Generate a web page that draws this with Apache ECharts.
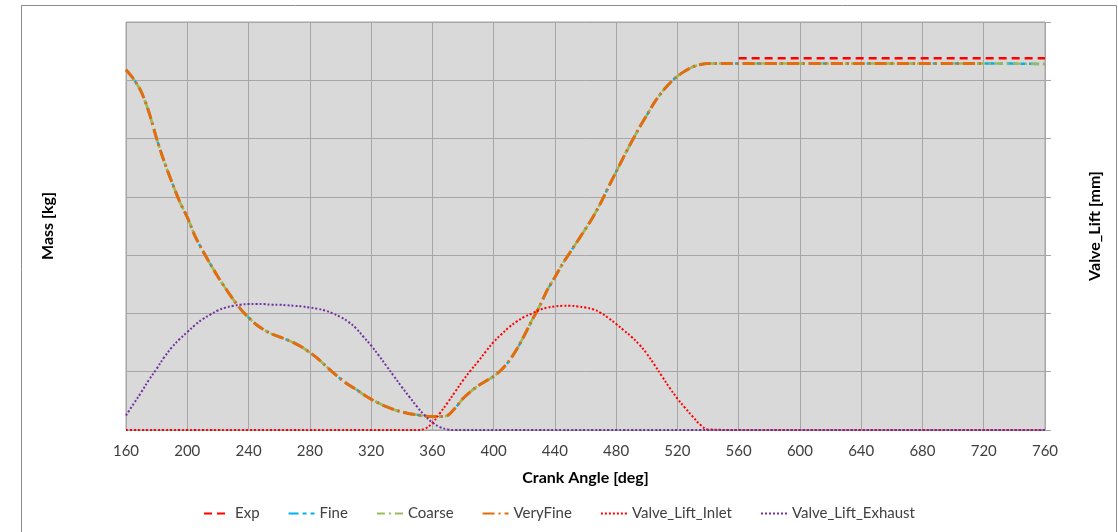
<!DOCTYPE html>
<html>
<head>
<meta charset="utf-8">
<script src="https://cdn.jsdelivr.net/npm/echarts@6/dist/echarts.min.js"></script>
<style>
  html, body { margin: 0; padding: 0; background: #fff; }
  #chart { width: 1118px; height: 532px; }
</style>
</head>
<body>
<div id="chart"></div>
<script>
// crank angle (deg)
const angles = [
  160, 165, 170, 175, 180, 185, 190, 195, 200, 205, 210, 215, 220, 225, 230, 235,
  240, 245, 250, 255, 260, 265, 270, 275, 280, 285, 290, 295, 300, 305, 310, 315,
  320, 325, 330, 335, 340, 345, 350, 355, 360, 365, 370, 375, 380, 385, 390, 395,
  400, 405, 410, 415, 420, 425, 430, 435, 440, 445, 450, 455, 460, 465, 470, 475,
  480, 485, 490, 495, 500, 505, 510, 515, 520, 525, 530, 535, 540, 560, 600, 640,
  680, 720, 760
]
// simulated mass, Fine / Coarse grids (overlap in the picture)
const massFine = [
  6.18, 6.02, 5.80, 5.45, 5.00, 4.60, 4.25, 3.92, 3.65, 3.33, 3.08, 2.85, 2.63, 2.43, 2.24, 2.07,
  1.93, 1.81, 1.72, 1.65, 1.60, 1.55, 1.49, 1.42, 1.33, 1.23, 1.11, 0.99, 0.88, 0.78, 0.70, 0.61,
  0.53, 0.46, 0.40, 0.35, 0.31, 0.28, 0.26, 0.24, 0.23, 0.23, 0.25, 0.38, 0.54, 0.66, 0.76, 0.84,
  0.92, 1.03, 1.18, 1.38, 1.62, 1.88, 2.12, 2.40, 2.62, 2.85, 3.05, 3.25, 3.45, 3.66, 3.90, 4.17,
  4.43, 4.69, 4.94, 5.18, 5.40, 5.62, 5.80, 5.95, 6.07, 6.16, 6.23, 6.27, 6.29, 6.29, 6.29, 6.29,
  6.29, 6.29, 6.28
]
const massCoarse = massFine
// VeryFine stops at 720 deg
const massVeryFine = massFine.slice(0, angles.indexOf(720) + 1)
// measured mass, only from 560 deg
const expAngles = [560, 760]
const massExp = [6.38, 6.38]
const liftInlet = [
  0, 0, 0, 0, 0, 0, 0, 0, 0, 0, 0, 0, 0, 0, 0, 0,
  0, 0, 0, 0, 0, 0, 0, 0, 0, 0, 0, 0, 0, 0, 0, 0,
  0, 0, 0, 0, 0, 0, 0, 0.02, 0.12, 0.29, 0.47, 0.66, 0.85, 1.02, 1.18, 1.35,
  1.51, 1.64, 1.76, 1.86, 1.94, 2.00, 2.06, 2.10, 2.12, 2.13, 2.13, 2.12, 2.10, 2.07, 2.01, 1.92,
  1.82, 1.71, 1.60, 1.47, 1.31, 1.12, 0.92, 0.72, 0.54, 0.38, 0.23, 0.09, 0.01, 0, 0, 0,
  0, 0, 0
]
const liftExhaust = [
  0.25, 0.45, 0.65, 0.86, 1.05, 1.25, 1.42, 1.56, 1.68, 1.80, 1.90, 1.98, 2.05, 2.10, 2.13, 2.15,
  2.16, 2.16, 2.16, 2.15, 2.15, 2.14, 2.13, 2.12, 2.10, 2.08, 2.05, 2.00, 1.94, 1.86, 1.75, 1.60,
  1.45, 1.28, 1.10, 0.92, 0.74, 0.57, 0.40, 0.25, 0.13, 0.05, 0.01, 0, 0, 0, 0, 0,
  0, 0, 0, 0, 0, 0, 0, 0, 0, 0, 0, 0, 0, 0, 0, 0,
  0, 0, 0, 0, 0, 0, 0, 0, 0, 0, 0, 0, 0, 0, 0, 0,
  0, 0, 0
]

const pairs = (xs, ys) => ys.map((y, i) => [xs[i], y])
const font = 'Lato, "Open Sans", sans-serif'
const txt = '#404040'

const myChart = echarts.init(document.getElementById('chart'))
myChart.setOption({
  animation: false,
  textStyle: { fontFamily: font },
  graphic: [{
    type: 'rect', shape: { x: 21.5, y: 5.5, width: 1095, height: 540 },
    style: { fill: 'none', stroke: '#8c8c8c', lineWidth: 1 }, silent: true
  }],
  grid: {
    left: 126, right: 73, top: 22, bottom: 102,
    show: true, backgroundColor: '#d9d9d9', borderColor: '#a6a6a6', borderWidth: 1
  },
  legend: {
    bottom: 6, left: 'center', itemGap: 28, itemWidth: 26, itemHeight: 10,
    itemStyle: { opacity: 0 },
    textStyle: { fontSize: 15, color: txt, fontFamily: font },
    data: ['Exp', 'Fine', 'Coarse', 'VeryFine', 'Valve_Lift_Inlet', 'Valve_Lift_Exhaust']
  },
  xAxis: {
    type: 'value', min: 160, max: 760, interval: 40,
    name: 'Crank Angle [deg]', nameLocation: 'middle', nameGap: 40,
    nameTextStyle: { fontSize: 16, fontWeight: 'bold', color: '#000' },
    axisLine: { show: false }, axisTick: { show: false },
    axisLabel: { fontSize: 15, color: txt, margin: 14 },
    splitLine: { lineStyle: { color: '#a6a6a6', width: 1 } }
  },
  yAxis: [{
    type: 'value', min: 0, max: 7, interval: 1,
    name: 'Mass [kg]', nameLocation: 'middle', nameGap: 70,
    nameTextStyle: { fontSize: 16, fontWeight: 'bold', color: '#000' },
    axisLine: { show: false }, axisTick: { show: false }, axisLabel: { show: false },
    splitLine: { lineStyle: { color: '#a6a6a6', width: 1 } }
  }, {
    type: 'value', min: 0, max: 7, interval: 1, position: 'right',
    name: 'Valve_Lift [mm]', nameLocation: 'middle', nameGap: 42,
    nameTextStyle: { fontSize: 16, fontWeight: 'bold', color: '#000' },
    axisLine: { show: false },
    axisTick: { show: true, length: 6, lineStyle: { color: '#a6a6a6' } },
    axisLabel: { show: false }, splitLine: { show: false }
  }],
  series: [
    {
      name: 'Exp', type: 'line', data: pairs(expAngles, massExp), symbol: 'none',
      itemStyle: { color: '#ff0000' },
      lineStyle: { color: '#ff0000', width: 2.5, type: [8, 5] }
    },
    {
      name: 'Fine', type: 'line', data: pairs(angles, massFine), symbol: 'none', smooth: 0.3,
      itemStyle: { color: '#00b0f0' },
      lineStyle: { color: '#00b0f0', width: 2.5, type: [10, 4, 4, 4] }
    },
    {
      name: 'Coarse', type: 'line', data: pairs(angles, massCoarse), symbol: 'none', smooth: 0.3,
      itemStyle: { color: '#9bbb59' },
      lineStyle: { color: '#9bbb59', width: 2.5, type: [8, 4, 2, 4] }
    },
    {
      name: 'VeryFine', type: 'line', data: pairs(angles, massVeryFine), symbol: 'none', smooth: 0.3,
      itemStyle: { color: '#e46c0a' },
      lineStyle: { color: '#e46c0a', width: 3, type: [12, 4, 2, 4] }
    },
    {
      name: 'Valve_Lift_Inlet', type: 'line', yAxisIndex: 1, data: pairs(angles, liftInlet),
      symbol: 'none', smooth: 0.4,
      itemStyle: { color: '#ff0000' },
      lineStyle: { color: '#ff0000', width: 2, type: [2, 2] }
    },
    {
      name: 'Valve_Lift_Exhaust', type: 'line', yAxisIndex: 1, data: pairs(angles, liftExhaust),
      symbol: 'none', smooth: 0.4,
      itemStyle: { color: '#7030a0' },
      lineStyle: { color: '#7030a0', width: 2, type: [2, 2] }
    }
  ]
})
</script>
</body>
</html>
